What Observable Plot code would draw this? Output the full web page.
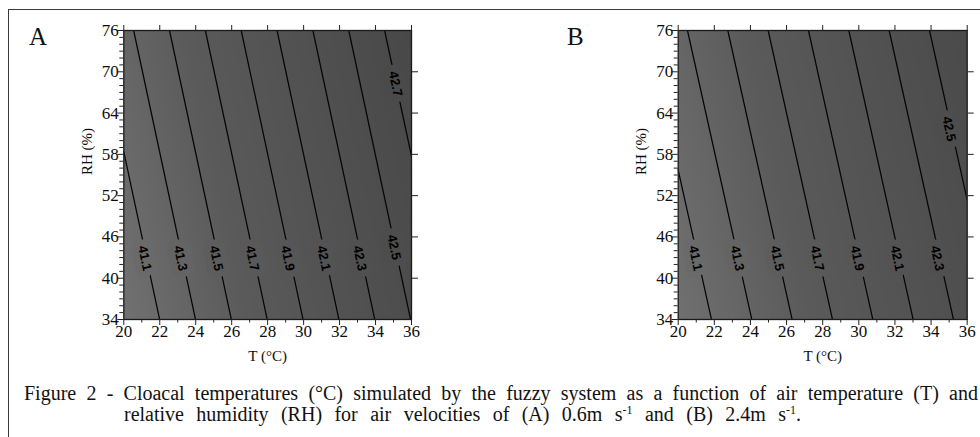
<!DOCTYPE html>
<html><head><meta charset="utf-8">
<script src="https://cdn.jsdelivr.net/npm/d3@7"></script>
<script src="https://cdn.jsdelivr.net/npm/@observablehq/plot@0.6"></script>
<style>
html,body{margin:0;padding:0;background:#fff;}
#fig{position:relative;width:980px;height:437px;overflow:hidden;font-family:"Liberation Serif",serif;color:#111;}
#border{position:absolute;left:7.5px;top:8.5px;width:990px;height:450px;border-top:1.8px solid #3a3a3a;border-left:1.6px solid #3a3a3a;}
.panel{position:absolute;top:0;}
.letter{position:absolute;font-size:25px;line-height:1;}
.cap{position:absolute;font-size:20px;line-height:21px;text-align:justify;text-align-last:justify;white-space:normal;}
.cap sup{font-size:12px;vertical-align:7px;line-height:0;}
</style></head><body>
<div id="fig">
  <div id="border"></div>
  <div id="pa" class="panel" style="left:0"></div>
  <div id="pb" class="panel" style="left:490px"></div>
  <div class="letter" style="left:29px;top:24px">A</div>
  <div class="letter" style="left:567px;top:24px">B</div>
  <div class="cap" style="left:24px;top:382.5px;width:954px">Figure 2 - Cloacal temperatures (°C) simulated by the fuzzy system as a function of air temperature (T) and</div>
  <div class="cap" style="left:124px;top:403.5px;width:677px">relative humidity (RH) for air velocities of (A) 0.6m s<sup>-1</sup> and (B) 2.4m s<sup>-1</sup>.</div>
</div>
<script>
// ---- data ----
// cloacal temperature at the four corners of the T x RH window
const cornerT  = [20, 36, 20, 36];
const cornerRH = [34, 34, 76, 76];
const cloacalA = [40.900, 42.505, 41.245, 42.850];   // panel A (0.6 m/s)
const cloacalB = [40.935, 42.368, 41.254, 42.687];   // panel B (2.4 m/s)

const levelsA = [41.1, 41.3, 41.5, 41.7, 41.9, 42.1, 42.3, 42.5, 42.7];
const levelsB = [41.1, 41.3, 41.5, 41.7, 41.9, 42.1, 42.3, 42.5];

const labelTextA = ["41.1","41.3","41.5","41.7","41.9","42.1","42.3","42.5","42.7"];
const labelTA    = [21.16, 23.15, 25.14, 27.14, 29.12, 31.12, 33.12, 35.02, 35.11];
const labelRHA   = [42.9, 42.9, 42.9, 42.9, 42.9, 42.9, 42.9, 44.5, 68.25];

const labelTextB = ["41.1","41.3","41.5","41.7","41.9","42.1","42.3","42.5"];
const labelTB    = [20.96, 23.27, 25.48, 27.70, 29.91, 32.13, 34.34, 34.99];
const labelRHB   = [42.9, 42.9, 42.9, 42.9, 42.9, 42.9, 42.9, 61.7];

const xTickLabels = [20, 22, 24, 26, 28, 30, 32, 34, 36];
const yTickLabels = [34, 40, 46, 52, 58, 64, 70, 76];
const rightTicks  = [40, 46, 52, 58, 64, 70];
const xMinor = d3.range(21, 36, 2);
const yMinor = d3.range(35, 76).filter(v => (v - 34) % 6 !== 0);

const T0 = 20, T1 = 36, RH0 = 34, RH1 = 76;
// a 2x2 grid whose cell centres fall on the corners of the window
const gx1 = T0 - (T1 - T0) / 2, gx2 = T1 + (T1 - T0) / 2;
const gy1 = RH0 - (RH1 - RH0) / 2, gy2 = RH1 + (RH1 - RH0) / 2;

function points(vals) { return cornerT.map((t, i) => ({T: t, RH: cornerRH[i], v: vals[i]})); }
function labels(text, ts, rhs) { return text.map((s, i) => ({s, T: ts[i], RH: rhs[i], v: +s})); }

function panel(vals, levels, labs, mLeft, mRight) {
  return Plot.plot({
    width: 490, height: 372,
    marginLeft: mLeft, marginRight: mRight, marginTop: 30, marginBottom: 53,
    x: {domain: [T0, T1]},
    y: {domain: [RH0, RH1]},
    color: {type: "linear", domain: [40.9, 41.6, 42.85], range: ["#717171", "#5a5a5a", "#484848"]},
    style: {fontFamily: "Liberation Serif", fontSize: "16px", color: "#0d0d0d", background: "transparent", overflow: "visible"},
    marks: [
      Plot.raster(points(vals), {x: "T", y: "RH", fill: "v", interpolate: "barycentric"}),
      Plot.contour(vals, {width: 2, height: 2, x1: gx1, x2: gx2, y1: gy1, y2: gy2,
                          thresholds: levels, fill: "none", stroke: "#050505", strokeWidth: 1.25, clip: true}),
      Plot.text(labs, {x: "T", y: "RH", text: "s", rotate: 78, fill: "#000", stroke: "v", strokeWidth: 14, paintOrder: "stroke",
                       fontFamily: "Liberation Sans", fontWeight: "bold", fontSize: 13}),
      Plot.frame({stroke: "#1a1a1a", strokeWidth: 1.3}),
      Plot.axisX({ticks: xTickLabels, tickSize: 6, tickPadding: -1, fontSize: 17, label: null, stroke: "#222"}),
      Plot.axisX({ticks: xMinor, tickSize: 3.5, tickFormat: () => "", label: null, stroke: "#222"}),
      Plot.axisX({anchor: "top", ticks: xTickLabels, tickSize: 6, tickFormat: () => "", label: null, stroke: "#222"}),
      Plot.axisY({ticks: yTickLabels, tickSize: 6, tickPadding: -1, fontSize: 17, label: null, stroke: "#222"}),
      Plot.axisY({ticks: yMinor, tickSize: 4, tickFormat: () => "", label: null, stroke: "#222"}),
      Plot.axisY({anchor: "right", ticks: rightTicks, tickSize: 6, tickFormat: () => "", label: null, stroke: "#222"}),
      Plot.text(["T (°C)"], {text: d => d, frameAnchor: "bottom", dy: 41, fontSize: 15}),
      Plot.text(["RH (%)"], {text: d => d, frameAnchor: "left", dx: -37, rotate: -90, fontSize: 15})
    ]
  });
}

document.getElementById("pa").appendChild(
  panel(cloacalA, levelsA, labels(labelTextA, labelTA, labelRHA), 123.3, 79));
document.getElementById("pb").appendChild(
  panel(cloacalB, levelsB, labels(labelTextB, labelTB, labelRHB), 187.7, 13.3));
</script>
</body></html>
